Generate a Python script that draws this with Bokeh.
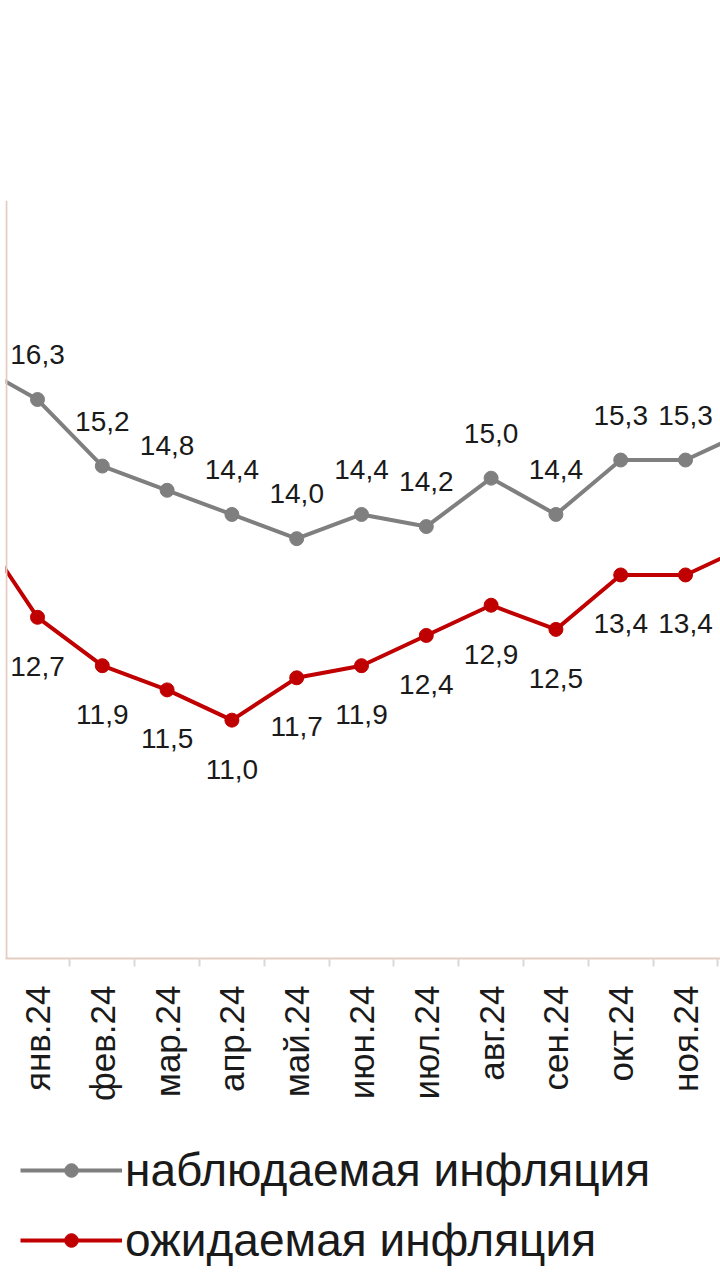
import math
from bokeh.plotting import figure
from bokeh.layouts import column
from bokeh.models import (FixedTicker, Span, Legend, LegendItem, ColumnDataSource, Range1d)
from bokeh.core.properties import value
from bokeh.embed import file_html
from bokeh.resources import INLINE

# Data (first and last entries lie outside the visible window: дек.23 and дек.24)
months = ["дек.23", "янв.24", "фев.24", "мар.24", "апр.24", "май.24", "июн.24",
          "июл.24", "авг.24", "сен.24", "окт.24", "ноя.24", "дек.24"]
observed = [16.9, 16.3, 15.2, 14.8, 14.4, 14.0, 14.4, 14.2, 15.0, 14.4, 15.3, 15.3, 15.8]
expected = [14.3, 12.7, 11.9, 11.5, 11.0, 11.7, 11.9, 12.4, 12.9, 12.5, 13.4, 13.4, 13.9]
series_names = ["наблюдаемая инфляция", "ожидаемая инфляция"]

xs = list(range(-1, len(months) - 1))
visible = [i for i, m in enumerate(months) if 0 <= xs[i] <= 10]

FONT = "Liberation Sans"
GRAY = "#7f7f7f"
RED = "#c00000"
AXIS = "#e3cdc2"
TXT = "#1a1a1a"

p = figure(width=720, height=1130, output_backend="svg", toolbar_location=None,
           x_range=Range1d(-0.494, 10.54), y_range=Range1d(7.06, 19.59),
           min_border_left=5, min_border_right=0, min_border_top=200, min_border_bottom=172)
p.outline_line_color = None
p.grid.visible = False
p.yaxis.visible = False
p.background_fill_color = "white"
p.border_fill_color = "white"

p.add_layout(Span(location=-0.48, dimension="height", line_color=AXIS, line_width=2))

ax = p.xaxis[0]
ax.ticker = FixedTicker(ticks=list(range(0, 11)), minor_ticks=[k + 0.5 for k in range(-1, 11)])
ax.major_label_overrides = {xs[i]: months[i] for i in visible}
ax.major_label_orientation = math.pi / 2
ax.major_label_text_font = FONT
ax.major_label_text_font_size = "35px"
ax.major_label_text_color = TXT
ax.major_label_standoff = 19
ax.axis_line_color = AXIS
ax.axis_line_width = 2
ax.major_tick_out = 0
ax.major_tick_in = 0
ax.minor_tick_out = 8
ax.minor_tick_in = 0
ax.minor_tick_line_color = "#d9d9d9"
ax.minor_tick_line_width = 2

src = ColumnDataSource(dict(x=xs, obs=observed, exp=expected))
p.line("x", "obs", source=src, line_color=GRAY, line_width=4)
p.scatter("x", "obs", source=src, size=14, fill_color=GRAY, line_color=GRAY)
p.line("x", "exp", source=src, line_color=RED, line_width=4)
p.scatter("x", "exp", source=src, size=14, fill_color=RED, line_color=RED)

lab = ColumnDataSource(dict(
    x=[xs[i] for i in visible],
    obs=[observed[i] for i in visible],
    exp=[expected[i] for i in visible],
    obs_t=[f"{observed[i]:.1f}".replace(".", ",") for i in visible],
    exp_t=[f"{expected[i]:.1f}".replace(".", ",") for i in visible],
))
p.text("x", "obs", text="obs_t", source=lab, text_align="center", text_baseline="middle",
       y_offset=-45, text_font=value(FONT), text_font_size="28px", text_color=TXT)
p.text("x", "exp", text="exp_t", source=lab, text_align="center", text_baseline="middle",
       y_offset=49, text_font=value(FONT), text_font_size="28px", text_color=TXT)

# Legend panel (a second figure under the chart; its series glyphs lie outside its view)
pl = figure(width=720, height=150, output_backend="svg", toolbar_location=None,
            x_range=Range1d(100, 101), y_range=Range1d(100, 101),
            min_border_left=0, min_border_right=0, min_border_top=0, min_border_bottom=0)
pl.outline_line_color = None
pl.grid.visible = False
pl.axis.visible = False
gl = pl.line("x", "obs", source=src, line_color=GRAY, line_width=4)
gs = pl.scatter("x", "obs", source=src, size=12, fill_color=GRAY, line_color=GRAY)
rl = pl.line("x", "exp", source=src, line_color=RED, line_width=4)
rs = pl.scatter("x", "exp", source=src, size=12, fill_color=RED, line_color=RED)

legend = Legend(items=[LegendItem(label=series_names[0], renderers=[gl, gs]),
                       LegendItem(label=series_names[1], renderers=[rl, rs])],
                location=(15, 10), orientation="vertical",
                glyph_width=102, glyph_height=34, label_height=60, label_standoff=3,
                spacing=10, padding=0, margin=0,
                border_line_alpha=0, background_fill_alpha=0,
                label_text_font=FONT, label_text_font_size="46px", label_text_color=TXT)
pl.add_layout(legend, "center")

layout = column(p, pl, spacing=0)
open("out.html", "w").write(file_html(layout, INLINE))
